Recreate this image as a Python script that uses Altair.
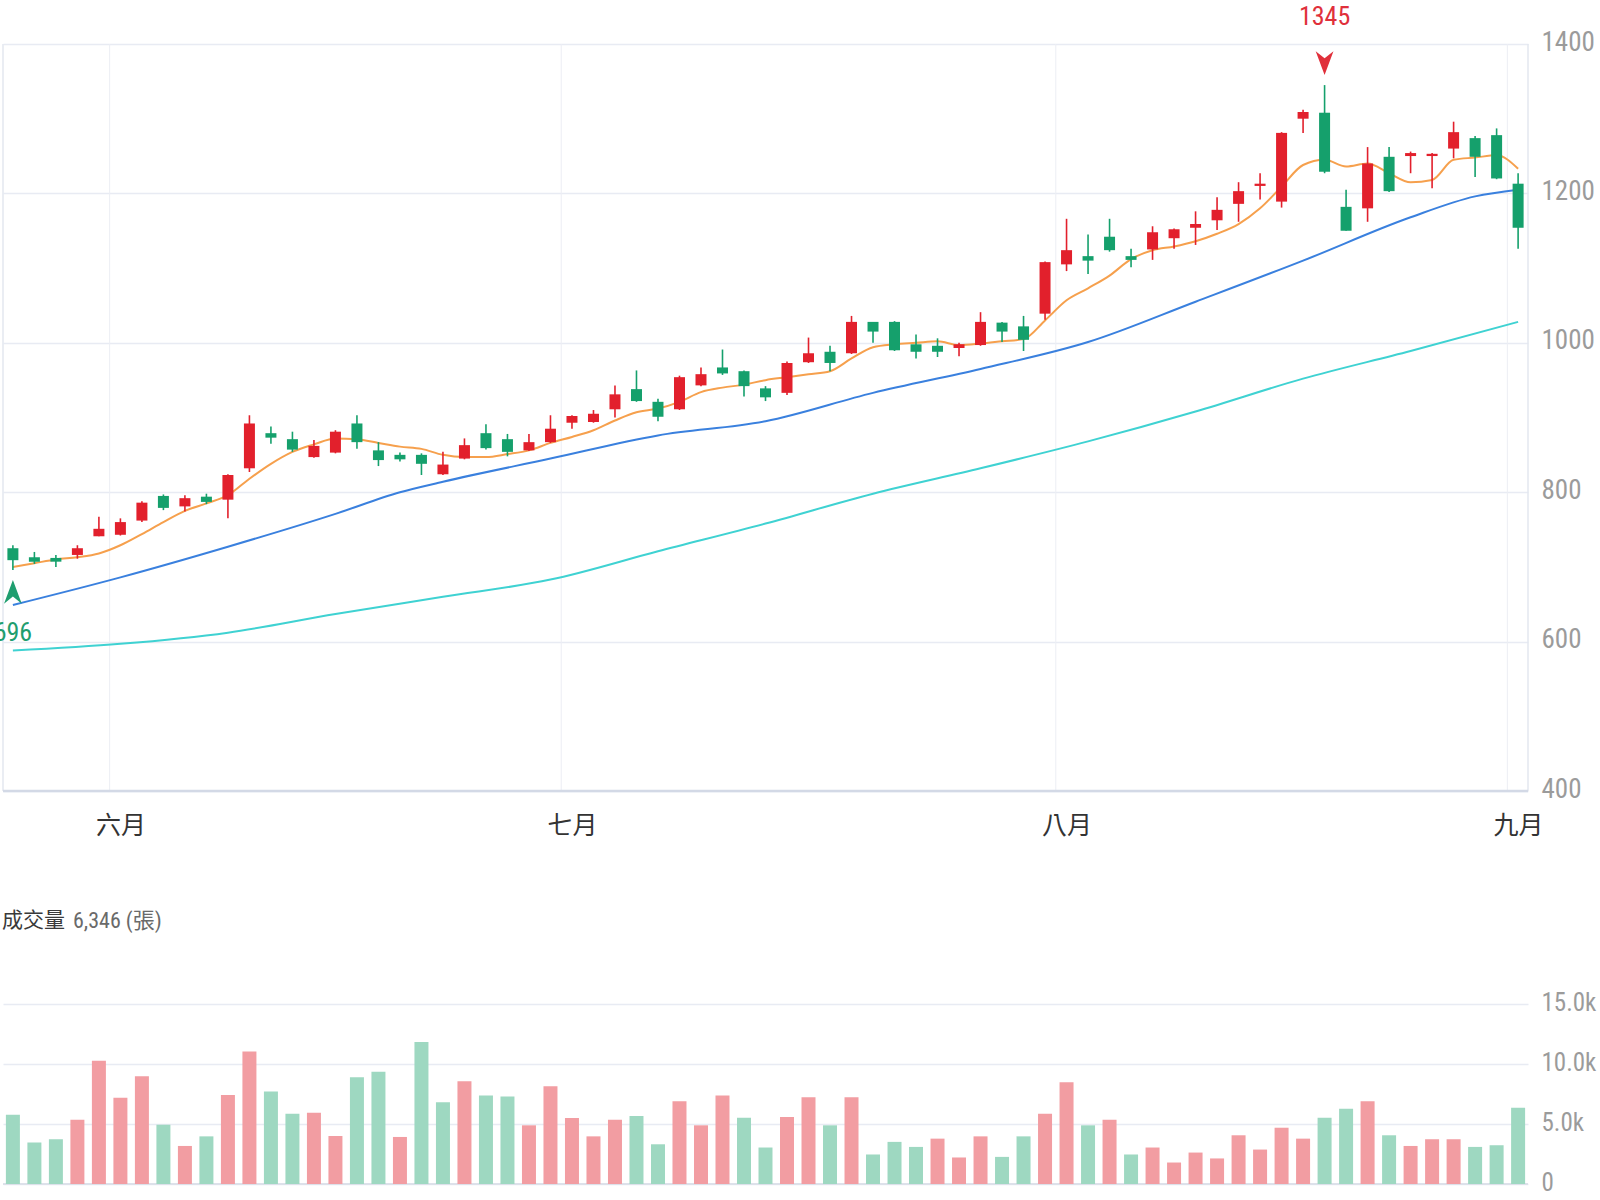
import altair as alt
import numpy as np
import pandas as pd

# ---------------- data ----------------
opens = [725, 713, 712, 716, 741, 743, 762, 795, 781, 794,
         790, 832, 879, 871, 847, 853, 892, 856, 850, 850,
         824, 845, 879, 871, 856, 867, 893, 894, 911, 938,
         921, 911, 943, 967, 962, 939, 933, 974, 988, 986,
         1028, 1028, 998, 996, 993, 997, 1027, 1022, 1039, 1105,
         1116, 1142, 1116, 1125, 1140, 1154, 1164, 1186, 1210, 1189,
         1300, 1308, 1182, 1180, 1249, 1250, 1250, 1260, 1274, 1278,
         1213]
highs = [729, 720, 716, 729, 767, 765, 788, 797, 796, 798,
         824, 903, 888, 881, 870, 883, 903, 867, 853, 852,
         854, 872, 891, 878, 878, 903, 903, 910, 943, 963,
         925, 956, 967, 991, 963, 942, 975, 1007, 996, 1036,
         1028, 1029, 1011, 1006, 1000, 1041, 1028, 1036, 1109, 1166,
         1145, 1166, 1126, 1156, 1153, 1176, 1195, 1215, 1227, 1282,
         1312, 1345, 1205, 1262, 1262, 1256, 1254, 1296, 1277, 1287,
         1227]
lows = [696, 704, 700, 711, 741, 742, 760, 776, 774, 784,
        765, 827, 865, 854, 846, 852, 858, 835, 841, 823,
        823, 844, 857, 848, 855, 866, 885, 893, 900, 921,
        895, 910, 942, 957, 928, 922, 930, 973, 962, 985,
        1000, 989, 979, 981, 982, 996, 1001, 989, 1031, 1096,
        1092, 1122, 1101, 1111, 1126, 1131, 1151, 1162, 1192, 1181,
        1281, 1227, 1150, 1162, 1202, 1227, 1207, 1247, 1222, 1219,
        1126]
closes = [709, 707, 707, 725, 751, 760, 786, 779, 792, 787,
          823, 892, 873, 857, 862, 881, 867, 843, 844, 838,
          837, 863, 859, 854, 867, 885, 902, 905, 931, 922,
          901, 954, 958, 959, 942, 927, 973, 986, 973, 1028,
          1015, 990, 988, 988, 998, 1028, 1015, 1004, 1108, 1124,
          1110, 1124, 1111, 1148, 1152, 1159, 1178, 1203, 1213, 1281,
          1309, 1229, 1150, 1240, 1203, 1254, 1253, 1282, 1249, 1220,
          1154]
volumes = [5770, 3450, 3730, 5350, 10270, 7180, 8970, 4940, 3170, 3970,
           7420, 11040, 7700, 5850, 5930, 4000, 8890, 9360, 3920, 11840,
           6820, 8560, 7370, 7290, 4890, 8140, 5490, 3970, 5350, 5660,
           3310, 6900, 4890, 7370, 5520, 3040, 5580, 7230, 4890, 7230,
           2460, 3510, 3090, 3780, 2210, 3970, 2260, 3970, 5850, 8470,
           4890, 5350, 2460, 3040, 1790, 2620, 2130, 4060, 2870, 4690,
           3780, 5520, 6270, 6900, 4060, 3170, 3730, 3730, 3090, 3230,
           6346]
vol_up = [0, 0, 0, 1, 1, 1, 1, 0, 1, 0,
          1, 1, 0, 0, 1, 1, 0, 0, 1, 0,
          0, 1, 0, 0, 1, 1, 1, 1, 1, 0,
          0, 1, 1, 1, 0, 0, 1, 1, 0, 1,
          0, 0, 0, 1, 1, 1, 0, 0, 1, 1,
          0, 1, 0, 1, 1, 1, 1, 1, 1, 1,
          1, 0, 0, 1, 0, 1, 1, 1, 0, 0,
          0]
ma5 = [700, 705, 710, 713, 718, 729, 744, 760, 775, 785,
       796, 818, 838, 854, 864, 872, 871, 866, 861, 858,
       850, 847, 847, 851, 856, 866, 874, 883, 896, 907,
       912, 921, 934, 940, 944, 950, 954, 958, 962, 979,
       994, 998, 1000, 1002, 997, 999, 1002, 1005, 1030, 1057,
       1073, 1090, 1112, 1124, 1129, 1136, 1146, 1159, 1180, 1209,
       1238, 1245, 1236, 1240, 1227, 1215, 1218, 1245, 1248, 1251,
       1233]
ma20_idx = [0, 5, 10, 15, 18, 20, 25, 30, 35, 40, 45, 50, 55, 60, 65, 68, 70]
ma20_val = [649, 686, 727, 771, 800, 814, 845, 876, 895, 933, 965, 1001, 1055, 1110, 1168, 1196, 1205]
ma60_idx = [0, 5, 10, 15, 20, 25, 30, 35, 40, 45, 50, 55, 60, 65, 70]
ma60_val = [588, 597, 612, 637, 660, 683, 721, 758, 798, 832, 868, 908, 952, 989, 1028]

month_labels = ["六月", "七月", "八月", "九月"]
month_start = [5, 26, 49, 70]
price_ticks = [400, 600, 800, 1000, 1200, 1400]
vol_ticks = [0, 5000, 10000, 15000]
vol_title = "成交量"
vol_unit = "張"

# ---------------- styling / layout ----------------
FONT = "'Liberation Sans Narrow', 'Roboto Condensed', 'DejaVu Sans Condensed', 'Noto Sans CJK TC', sans-serif"
RED, GREEN = "#e2202c", "#15a06c"
RED_L, GREEN_L = "#f29da2", "#9ed8c1"
C_MA5, C_MA20, C_MA60 = "#f6a04d", "#3a80de", "#3fd2d2"
GRID = "#e8ebf3"

PLOT_W, CANVAS_H = 1525, 1200
PRICE_RANGE = [791, 44]
VOL_RANGE = [1184, 1004]

n = len(closes)
idx = list(range(n))
X_LO, X_HI = -0.46, n - 1 + 0.46
P_LO, P_HI = price_ticks[0], price_ticks[-1]

candles = pd.DataFrame({"idx": idx, "open": opens, "high": highs, "low": lows, "close": closes})
candles["up"] = candles["close"] >= candles["open"]
vol_df = pd.DataFrame({"idx": idx, "vol": volumes, "up": [bool(u) for u in vol_up]})
ma5_df = pd.DataFrame({"idx": idx, "val": ma5})
ma20_df = pd.DataFrame({"idx": ma20_idx, "val": ma20_val})
ma60_df = pd.DataFrame({"idx": ma60_idx, "val": ma60_val})
month_df = pd.DataFrame({"edge": [m - 0.5 for m in month_start], "lo": P_LO, "hi": P_HI})
border_df = pd.DataFrame({"x": [X_LO, X_HI], "lo": P_LO, "hi": P_HI})
hline_df = pd.DataFrame({"x": [X_LO], "x2": [X_HI], "p": [P_LO], "v": [vol_ticks[0]]})

hi_i = int(np.argmax(highs))
lo_i = int(np.argmin(lows))
hi_df = pd.DataFrame({"idx": [hi_i], "price": [highs[hi_i]], "label": [str(highs[hi_i])]})
lo_df = pd.DataFrame({"idx": [lo_i], "price": [lows[lo_i]], "label": [str(lows[lo_i])]})
title_df = pd.DataFrame({"x": [X_LO], "v": [vol_ticks[-1]],
                         "t1": [vol_title], "t2": [f"{volumes[-1]:,} ({vol_unit})"]})

x_scale = alt.Scale(domain=[X_LO, X_HI], nice=False, zero=False, padding=0)
p_scale = alt.Scale(domain=[P_LO, P_HI], range=PRICE_RANGE, nice=False, zero=False, padding=0)
v_scale = alt.Scale(domain=[vol_ticks[0], vol_ticks[-1]], range=VOL_RANGE, nice=False, zero=False,
                    padding=0)

label_expr = " : ".join(f"datum.value == {v} ? '{l}'" for v, l in zip(month_start, month_labels)) + " : ''"
x_axis = alt.Axis(orient="bottom", offset=PRICE_RANGE[0] - CANVAS_H, values=month_start,
                  labelExpr=label_expr, grid=False, domain=False, ticks=False, tickSize=0,
                  labelPadding=22, labelFontSize=25, labelColor="#333333", labelFont=FONT,
                  title=None, labelFlush=False, labelOverlap=False)
price_axis = alt.Axis(orient="right", values=price_ticks, format="d", grid=True, gridColor=GRID,
                      gridWidth=1.5, domain=False, ticks=False, tickSize=0, labelPadding=13,
                      labelFontSize=27, labelColor="#9b9b9b", labelFont=FONT, title=None,
                      labelFlush=False, labelOverlap=False, labelOffset=-2)
vol_axis = alt.Axis(orient="right", values=vol_ticks, grid=True, gridColor=GRID, gridWidth=1.5,
                    domain=False, ticks=False, tickSize=0, labelPadding=13, labelFontSize=25,
                    labelColor="#9b9b9b", labelFont=FONT, title=None, labelFlush=False,
                    labelOverlap=False, labelOffset=-2,
                    labelExpr="datum.value == 0 ? '0' : format(datum.value / 1000, '.1f') + 'k'")


def X(f):
    return alt.X(f, scale=x_scale, axis=x_axis)


def YP(f):
    return alt.Y(f, scale=p_scale, axis=price_axis)


def YV(f):
    return alt.Y(f, scale=v_scale, axis=vol_axis)


month_rules = alt.Chart(month_df).mark_rule(color="#eceef4", strokeWidth=1).encode(
    x=X("edge:Q"), y=YP("lo:Q"), y2="hi:Q")
borders = alt.Chart(border_df).mark_rule(color="#e3e7ef", strokeWidth=1.5).encode(
    x=X("x:Q"), y=YP("lo:Q"), y2="hi:Q")
bottom_line = alt.Chart(hline_df).mark_rule(color="#d3d9e6", strokeWidth=2.5).encode(
    x=X("x:Q"), x2="x2:Q", y=YP("p:Q"))


def ma_line(df, color):
    return alt.Chart(df).mark_line(color=color, strokeWidth=2, interpolate="monotone").encode(
        x=X("idx:Q"), y=YP("val:Q"))


wicks = alt.Chart(candles).mark_rule(strokeWidth=1.6).encode(
    x=X("idx:Q"), y=YP("low:Q"), y2="high:Q",
    color=alt.condition("datum.up", alt.value(RED), alt.value(GREEN)))
bodies = alt.Chart(candles).mark_bar(size=11, orient="vertical").encode(
    x=X("idx:Q"), y=YP("open:Q"), y2="close:Q",
    color=alt.condition("datum.up", alt.value(RED), alt.value(GREEN)))

UP_ARROW = "M0,-1L0.75,1L0,0.4L-0.75,1Z"
DOWN_ARROW = "M0,1L0.75,-1L0,-0.4L-0.75,-1Z"
hi_arrow = alt.Chart(hi_df).mark_point(shape=DOWN_ARROW, filled=True, size=560, opacity=1,
                                        color="#e0303b", yOffset=-22).encode(
    x=X("idx:Q"), y=YP("price:Q"))
hi_text = alt.Chart(hi_df).mark_text(font=FONT, fontSize=26, color="#e0303b", baseline="middle",
                                     dy=-68).encode(
    x=X("idx:Q"), y=YP("price:Q"), text="label:N")
lo_arrow = alt.Chart(lo_df).mark_point(shape=UP_ARROW, filled=True, size=560, opacity=1,
                                        color="#1f9e6f", yOffset=22).encode(
    x=X("idx:Q"), y=YP("price:Q"))
lo_text = alt.Chart(lo_df).mark_text(font=FONT, fontSize=26, color="#1f9e6f", baseline="middle",
                                     dy=63).encode(
    x=X("idx:Q"), y=YP("price:Q"), text="label:N")

price = alt.layer(month_rules, borders, bottom_line,
                  ma_line(ma60_df, C_MA60), ma_line(ma20_df, C_MA20), ma_line(ma5_df, C_MA5),
                  wicks, bodies, hi_arrow, hi_text, lo_arrow, lo_text)

vol_bars = alt.Chart(vol_df).mark_bar(size=14, orient="vertical").encode(
    x=X("idx:Q"), y=YV("vol:Q"),
    color=alt.condition("datum.up", alt.value(RED_L), alt.value(GREEN_L)))
vol_base = alt.Chart(hline_df).mark_rule(color="#dde1ea", strokeWidth=2).encode(
    x=X("x:Q"), x2="x2:Q", y=YV("v:Q"))
title1 = alt.Chart(title_df).mark_text(font=FONT, fontSize=21, color="#3a3a3a", align="left",
                                       baseline="middle", dx=-1, dy=-83).encode(
    x=X("x:Q"), y=YV("v:Q"), text="t1:N")
title2 = alt.Chart(title_df).mark_text(font=FONT, fontSize=22, color="#6a6a6a", align="left",
                                       baseline="middle", dx=70, dy=-83).encode(
    x=X("x:Q"), y=YV("v:Q"), text="t2:N")

volume = alt.layer(vol_base, vol_bars, title1, title2)

chart = alt.layer(price, volume).resolve_scale(y="independent").properties(
    width=PLOT_W, height=CANVAS_H,
    padding={"left": 3, "top": 0, "right": 72, "bottom": 0},
    autosize=alt.AutoSizeParams(type="none"),
).configure(
    font=FONT, background="white",
    view=alt.ViewConfig(stroke="transparent", strokeWidth=0),
)

chart.save("out.html", embed_options={"renderer": "svg", "actions": False})
